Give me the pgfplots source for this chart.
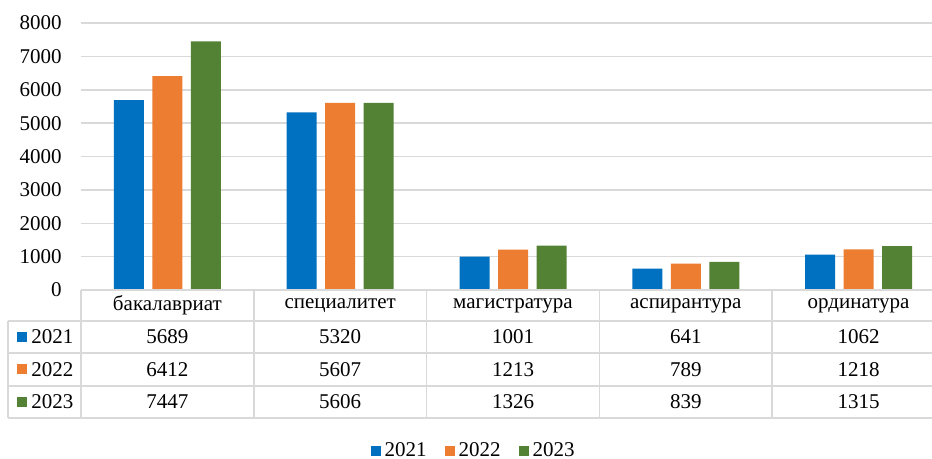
\documentclass[border=0pt]{standalone}
\usepackage{pgfplots}
\pgfplotsset{compat=1.18}
\usepackage{fontspec}
\setmainfont{Liberation Serif}
\definecolor{c1}{HTML}{0070C0}
\definecolor{c2}{HTML}{ED7D31}
\definecolor{c3}{HTML}{548235}
\definecolor{gridc}{HTML}{D9D9D9}
\pgfplotsset{sqlegend/.style={legend image code/.code={\fill[##1] (0pt,-2.5pt) rectangle (5pt,2.5pt);}}}
\begin{document}
\fontsize{10.5pt}{12pt}\selectfont
\begin{tikzpicture}
\begin{scope}
\clip (0,0) rectangle (466pt,-229.5pt);
\begin{axis}[at={(40.5pt,-145pt)}, anchor=south west, scale only axis,
  width=432pt, height=133.5pt, xmin=-0.5, xmax=4.5, ymin=0, ymax=8000,
  ytick={0,1000,...,8000}, xtick=\empty, axis line style={draw=none},
  major tick length=0, ymajorgrids, grid style={gridc, line width=0.75pt},
  ybar=4.25pt, bar width=15pt, clip=false,
  /pgf/number format/assume math mode=true, /pgf/number format/1000 sep={},
  every tick label/.append style={font=\fontsize{10.5pt}{12pt}\selectfont},
  yticklabel style={xshift=-6pt},
  legend columns=3,
  legend style={draw=none, fill=none, at={(0.4555,-0.603)}, anchor=center,
    font=\fontsize{10.5pt}{12pt}\selectfont,
    /tikz/every even column/.append style={column sep=7pt},
    nodes={inner xsep=2pt}},
  ]
\addplot[fill=c1, draw=none, sqlegend] coordinates {(0,5689) (1,5320) (2,1001) (3,641) (4,1062)};
\addplot[fill=c2, draw=none, sqlegend] coordinates {(0,6412) (1,5607) (2,1213) (3,789) (4,1218)};
\addplot[fill=c3, draw=none, sqlegend] coordinates {(0,7447) (1,5606) (2,1326) (3,839) (4,1315)};
\legend{2021,2022,2023}
\end{axis}
\begin{scope}[x=0.5pt,y=-0.5pt]
\draw[gridc, line width=0.75pt] (81,290) -- (945,290);
\foreach \yy in {321,353,386,418} \draw[gridc, line width=0.75pt] (8,\yy) -- (945,\yy);
\draw[gridc, line width=0.75pt] (8,321) -- (8,418);
\foreach \xx in {81,253.8,426.6,599.4,772.2} \draw[gridc, line width=0.75pt] (\xx,290) -- (\xx,418);
\foreach \nm [count=\i from 0] in {бакалавриат,специалитет,магистратура,аспирантура,ординатура}
  \node at (167.4+172.8*\i,305.5) {\nm};
\foreach \a/\b/\c/\d/\e [count=\r from 0] in {5689/5320/1001/641/1062,6412/5607/1213/789/1218,7447/5606/1326/839/1315}{
  \node at (167.4,337+32.5*\r) {\a};
  \node at (340.2,337+32.5*\r) {\b};
  \node at (513,337+32.5*\r) {\c};
  \node at (685.8,337+32.5*\r) {\d};
  \node at (858.6,337+32.5*\r) {\e};
}
\foreach \yr/\col [count=\r from 0] in {2021/c1,2022/c2,2023/c3}{
  \fill[\col] (17,332+32.5*\r) rectangle (27,342+32.5*\r);
  \node[anchor=west, inner xsep=0pt] at (31,337+32.5*\r) {\yr};
}
\end{scope}
\end{scope}
\pgfresetboundingbox
\useasboundingbox (0,0) rectangle (466pt,-229.5pt);
\end{tikzpicture}
\end{document}
